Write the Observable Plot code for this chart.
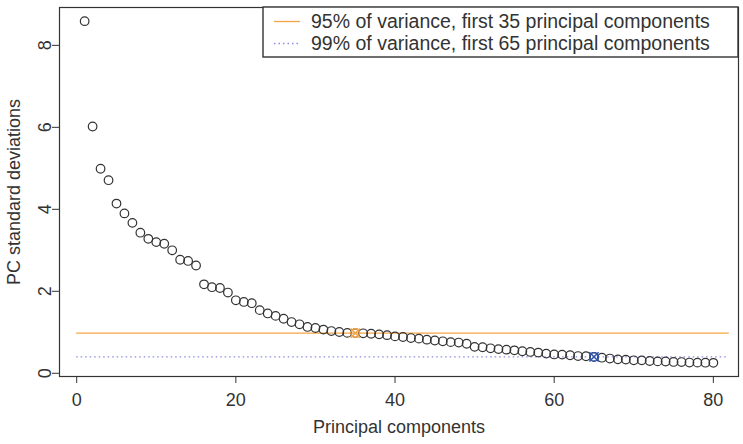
<!DOCTYPE html>
<html>
<head>
<meta charset="utf-8">
<script src="https://cdn.jsdelivr.net/npm/d3@7"></script>
<script src="https://cdn.jsdelivr.net/npm/@observablehq/plot@0.6"></script>
<style>
  html, body { margin: 0; padding: 0; background: #fff; }
  #chart svg { display: block; }
</style>
</head>
<body>
<div id="chart"></div>
<script>
// Standard deviation of each principal component (components 1..80)
const pcSdev = [
  8.59, 6.02, 4.99, 4.71, 4.14, 3.90, 3.67, 3.43, 3.28, 3.20,
  3.16, 3.00, 2.77, 2.74, 2.63, 2.17, 2.10, 2.08, 1.97, 1.78,
  1.74, 1.71, 1.54, 1.46, 1.40, 1.33, 1.25, 1.195, 1.13, 1.105,
  1.066, 1.03, 1.007, 0.985, 0.98, 0.975, 0.965, 0.95, 0.93, 0.90,
  0.885, 0.86, 0.845, 0.82, 0.80, 0.78, 0.76, 0.75, 0.72, 0.645,
  0.635, 0.61, 0.59, 0.576, 0.56, 0.537, 0.52, 0.505, 0.48, 0.46,
  0.456, 0.44, 0.42, 0.415, 0.40, 0.38, 0.36, 0.34, 0.334, 0.317,
  0.315, 0.30, 0.29, 0.288, 0.276, 0.274, 0.262, 0.26, 0.258, 0.255
];

// Variance cut-offs: number of components kept and their labels
const cutComponents = [35, 65];
const cutLabels = [
  "95% of variance, first 35 principal components",
  "99% of variance, first 65 principal components"
];
const cutColors = ["#f5a442", "#8c8ce0"];
const cutMarkColors = ["#f5a442", "#2f55b0"];
const cutDash = [null, "1.5 3"];

const xTicks = [0, 20, 40, 60, 80];
const yTicks = [0, 2, 4, 6, 8];

const points = pcSdev.map((v, i) => ({pc: i + 1, sd: v}));
const cuts = cutComponents.map((k, i) => ({
  pc: k, sd: pcSdev[k - 1], label: cutLabels[i],
  color: cutColors[i], mark: cutMarkColors[i], dash: cutDash[i]
}));

// R-style 4% padding around the data range
const n = pcSdev.length;
const xPad = (n - 1) * 0.04;
const yMin = d3.min(pcSdev), yMax = d3.max(pcSdev);
const yPad = (yMax - yMin) * 0.04;

const FONT = "Liberation Sans, Arial, Helvetica, sans-serif";
const INK = "#333";

const chart = Plot.plot({
  width: 743,
  height: 444,
  marginLeft: 59,
  marginRight: 5,
  marginTop: 7,
  marginBottom: 68,
  style: {fontFamily: FONT, fontSize: "18px", color: INK, background: "#fff"},
  x: {domain: [1 - xPad, n + xPad]},
  y: {domain: [yMin - yPad, yMax + yPad]},
  marks: [
    Plot.axisX({
      ticks: xTicks, tickSize: 7, tickPadding: 10, fontSize: 18,
      stroke: INK, fill: INK,
      label: "Principal components", labelAnchor: "center", labelArrow: "none",
      labelOffset: 56
    }),
    Plot.axisY({
      ticks: yTicks, tickSize: 7, tickPadding: 2, fontSize: 18, tickRotate: -90,
      stroke: INK, fill: INK,
      label: "PC standard deviations", labelAnchor: "center", labelArrow: "none",
      labelOffset: 52
    }),
    // cut-off levels
    ...cuts.map(c => Plot.ruleY([c], {
      y: "sd", x1: () => 0, x2: () => n + 2,
      stroke: c.color, strokeWidth: 1.3, strokeDasharray: c.dash
    })),
    Plot.dot(points, {x: "pc", y: "sd", r: 4.3, stroke: INK, strokeWidth: 1.2, fill: "none"}),
    Plot.dot(cuts, {x: "pc", y: "sd", r: 4.3, stroke: "mark", strokeWidth: 1.4, fill: "none"}),
    Plot.dot(cuts, {x: "pc", y: "sd", r: 4.3, symbol: "times", stroke: "mark", strokeWidth: 1.6}),
    Plot.frame({stroke: INK, strokeWidth: 1.2})
  ]
});

// Legend box in the top-right corner of the panel
const svg = d3.select(chart);
const lg = svg.append("g")
  .attr("font-family", FONT)
  .style("font-size", "19.5px")
  .attr("text-anchor", "start");
const bx0 = 263, bx1 = 738, by0 = 7, by1 = 57;
lg.append("rect")
  .attr("x", bx0).attr("y", by0).attr("width", bx1 - bx0).attr("height", by1 - by0)
  .attr("fill", "#fff").attr("stroke", INK).attr("stroke-width", 1.4);
cuts.forEach((c, i) => {
  const yy = 21.5 + i * 22;
  lg.append("line")
    .attr("x1", 274).attr("x2", 300).attr("y1", yy).attr("y2", yy)
    .attr("stroke", c.color).attr("stroke-width", 1.3)
    .attr("stroke-dasharray", c.dash);
  lg.append("text")
    .attr("x", 311).attr("y", yy).attr("dy", "0.35em")
    .attr("fill", INK).text(c.label);
});

document.getElementById("chart").appendChild(chart);
</script>
</body>
</html>
